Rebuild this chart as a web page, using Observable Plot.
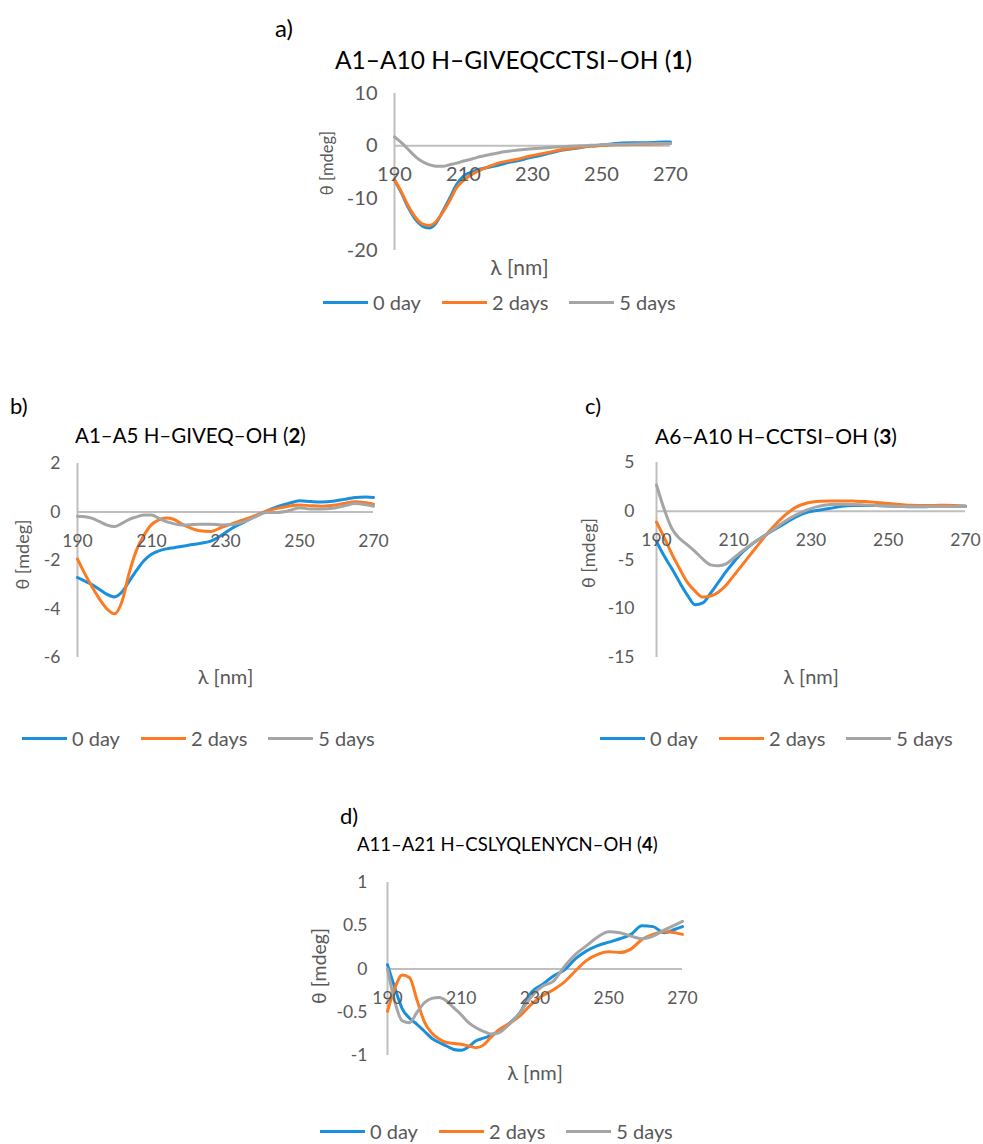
<!DOCTYPE html>
<html><head><meta charset="utf-8">
<script src="https://cdn.jsdelivr.net/npm/d3@7"></script>
<script src="https://cdn.jsdelivr.net/npm/@observablehq/plot@0.6"></script>
<style>
body{margin:0;background:#fff;}
#root{position:relative;width:983px;height:1144px;font-family:Lato,sans-serif;overflow:hidden;background:#fff;}
.abs{position:absolute;white-space:nowrap;line-height:1;}
.tag{color:#000;}
.title{color:#000;}
.legend{display:flex;align-items:center;font-size:20px;color:#595959;}
.item{display:flex;align-items:center;margin-right:21px;}
.sw{display:inline-block;width:45px;height:3px;margin-right:5px;}
svg{position:absolute;}
</style></head><body><div id="root"></div>
<script>
// ---------------- data ----------------
const wavelengths = [190,192,194,196,198,200,202,204,206,208,210,212,214,216,218,220,223,226,229,232,235,238,241,244,247,250,253,256,259,262,265,268,270];
const seriesNames = ["0 day","2 days","5 days"];
const seriesColors = ["#1a8fdc","#fb7a22","#a5a5a5"];
const xTicks = [190,210,230,250,270];

// a) A1–A10 H–GIVEQCCTSI–OH (1)
const aDay0 = [-6.5,-9,-11.8,-14,-15.3,-15.7,-14.8,-12.5,-10,-7.4,-5.8,-5.1,-4.6,-4.3,-4.0,-3.7,-3.2,-2.8,-2.3,-1.9,-1.4,-0.9,-0.6,-0.3,-0.05,0.15,0.35,0.55,0.6,0.6,0.65,0.75,0.75];
const aDay2 = [-6.5,-8.8,-11.5,-13.6,-14.9,-15.2,-14.5,-12.7,-10.5,-8.0,-6.6,-5.6,-4.9,-4.3,-3.8,-3.3,-2.9,-2.5,-2.0,-1.6,-1.2,-0.8,-0.5,-0.25,-0.05,0.05,0.15,0.2,0.25,0.3,0.35,0.4,0.45];
const aDay5 = [1.7,0.6,-0.7,-2.0,-3.0,-3.6,-3.9,-3.9,-3.6,-3.3,-2.9,-2.6,-2.2,-1.9,-1.6,-1.35,-1.05,-0.8,-0.6,-0.45,-0.3,-0.2,-0.1,0.0,0.1,0.2,0.25,0.3,0.35,0.4,0.4,0.45,0.45];
const aTicksY = [-20,-10,0,10];

// b) A1–A5 H–GIVEQ–OH (2)
const bDay0 = [-2.7,-2.85,-3.0,-3.2,-3.4,-3.5,-3.3,-2.85,-2.4,-2.0,-1.74,-1.6,-1.52,-1.47,-1.42,-1.37,-1.3,-1.2,-0.95,-0.65,-0.42,-0.18,0.03,0.22,0.35,0.46,0.43,0.41,0.44,0.52,0.6,0.62,0.6];
const bDay2 = [-1.94,-2.55,-3.1,-3.6,-4.0,-4.2,-3.7,-2.5,-1.55,-0.95,-0.52,-0.32,-0.25,-0.3,-0.48,-0.62,-0.77,-0.8,-0.63,-0.47,-0.32,-0.15,0.03,0.15,0.24,0.29,0.26,0.24,0.28,0.35,0.42,0.38,0.32];
const bDay5 = [-0.18,-0.2,-0.26,-0.4,-0.54,-0.6,-0.47,-0.3,-0.2,-0.12,-0.12,-0.26,-0.4,-0.48,-0.54,-0.53,-0.5,-0.5,-0.54,-0.52,-0.4,-0.2,-0.02,-0.02,0.05,0.18,0.12,0.12,0.15,0.25,0.35,0.3,0.24];
const bTicksY = [-6,-4,-2,0,2];

// c) A6–A10 H–CCTSI–OH (3)
const cDay0 = [-3.1,-4.6,-5.9,-7.3,-8.6,-9.6,-9.4,-8.4,-7.3,-6.2,-5.2,-4.3,-3.6,-3.0,-2.5,-2.0,-1.3,-0.6,-0.1,0.1,0.3,0.5,0.58,0.6,0.58,0.55,0.5,0.45,0.45,0.5,0.52,0.55,0.55];
const cDay2 = [-1.1,-2.7,-4.4,-5.9,-7.3,-8.2,-8.8,-8.7,-8.3,-7.6,-6.6,-5.6,-4.6,-3.6,-2.6,-1.7,-0.5,0.4,0.85,1.02,1.06,1.06,1.04,1.0,0.9,0.8,0.7,0.62,0.6,0.6,0.62,0.55,0.5];
const cDay5 = [2.7,0.2,-1.8,-2.8,-3.45,-4.15,-4.9,-5.5,-5.6,-5.4,-4.8,-4.15,-3.55,-3.0,-2.5,-1.95,-1.1,-0.4,0.15,0.5,0.7,0.72,0.68,0.65,0.6,0.55,0.5,0.5,0.5,0.5,0.5,0.5,0.5];
const cTicksY = [-15,-10,-5,0,5];

// d) A11–A21 H–CSLYQLENYCN–OH (4)
const dDay0 = [0.05,-0.22,-0.46,-0.57,-0.64,-0.72,-0.8,-0.85,-0.89,-0.93,-0.94,-0.9,-0.83,-0.8,-0.77,-0.73,-0.63,-0.5,-0.27,-0.18,-0.08,-0.01,0.12,0.21,0.27,0.31,0.35,0.4,0.5,0.49,0.42,0.46,0.49];
const dDay2 = [-0.49,-0.22,-0.07,-0.1,-0.36,-0.61,-0.74,-0.81,-0.85,-0.86,-0.87,-0.89,-0.91,-0.88,-0.79,-0.71,-0.63,-0.54,-0.41,-0.31,-0.24,-0.15,-0.02,0.1,0.17,0.2,0.19,0.23,0.34,0.4,0.43,0.42,0.4];
const dDay5 = [0.0,-0.38,-0.6,-0.62,-0.5,-0.39,-0.34,-0.33,-0.37,-0.45,-0.53,-0.62,-0.68,-0.72,-0.75,-0.74,-0.64,-0.5,-0.32,-0.2,-0.14,0.03,0.17,0.27,0.37,0.43,0.42,0.38,0.35,0.38,0.45,0.51,0.55];
const dTicksY = [-1,-0.5,0,0.5,1];

const xLabel = "λ [nm]";
const yLabel = "θ [mdeg]";

// ---------------- layout ----------------
const panels = [
  {tag:"a)", title:"A1–A10 H–GIVEQCCTSI–OH (", num:"1", series:[aDay0,aDay2,aDay5], yTicks:aTicksY, yDomain:[-20,10],
   svg:{left:300, top:80, width:400, height:205}, m:{l:94, r:30, t:13, b:35},
   tick:20, ylab:{dx:-67, dy:-9, size:16.5}, xlab:{dx:-13, dy:18, size:21}, pad:17,
   tagPos:[275,16,24], titlePos:[335,48,24.5], legend:[323,302]},
  {tag:"b)", title:"A1–A5 H–GIVEQ–OH (", num:"2", series:[bDay0,bDay2,bDay5], yTicks:bTicksY, yDomain:[-6,2],
   svg:{left:0, top:450, width:400, height:240}, m:{l:77, r:27, t:13, b:33},
   tick:17.5, ylab:{dx:-54, dy:-6, size:18}, xlab:{dx:0, dy:20, size:20}, pad:17,
   tagPos:[10,395,22], titlePos:[75,425,20.5], legend:[22,738]},
  {tag:"c)", title:"A6–A10 H–CCTSI–OH (", num:"3", series:[cDay0,cDay2,cDay5], yTicks:cTicksY, yDomain:[-15,5],
   svg:{left:570, top:450, width:413, height:240}, m:{l:86, r:18, t:12, b:33},
   tick:17.5, ylab:{dx:-67, dy:-7, size:18}, xlab:{dx:0, dy:20, size:20}, pad:22,
   tagPos:[585,395,22], titlePos:[655,425,21], legend:[600,738]},
  {tag:"d)", title:"A11–A21 H–CSLYQLENYCN–OH (", num:"4", series:[dDay0,dDay2,dDay5], yTicks:dTicksY, yDomain:[-1,1],
   svg:{left:290, top:865, width:410, height:220}, m:{l:97, r:18, t:17, b:30},
   tick:17.5, ylab:{dx:-68, dy:-3, size:19.5}, xlab:{dx:0, dy:18, size:20}, pad:20,
   tagPos:[340,805,22], titlePos:[357,835,18.5], legend:[320,1131]}
];

const root = document.getElementById("root");
const TXT = "#595959", AX = "#bfbfbf";

for (const p of panels) {
  const rows = [];
  p.series.forEach((vals, si) => {
    vals.forEach((v, i) => rows.push({wl: wavelengths[i], v, s: seriesNames[si]}));
  });
  const chart = Plot.plot({
    width: p.svg.width, height: p.svg.height,
    marginLeft: p.m.l, marginRight: p.m.r, marginTop: p.m.t, marginBottom: p.m.b,
    x: {domain: [190, 270], axis: null},
    y: {domain: p.yDomain, axis: null},
    color: {domain: seriesNames, range: seriesColors},
    style: {fontFamily: "Lato, sans-serif", background: "transparent", overflow: "hidden"},
    marks: [
      Plot.ruleY([0], {stroke: AX, strokeWidth: 2}),
      Plot.ruleX([190], {stroke: AX, strokeWidth: 2}),
      Plot.line(rows, {x: "wl", y: "v", z: "s", stroke: "s", strokeWidth: 3, curve: "monotone-x"}),
      Plot.text(p.yTicks, {frameAnchor: "left", y: d => d, text: d => String(d), textAnchor: "end", lineAnchor: "middle", dx: -p.pad, fill: TXT, fontSize: p.tick}),
      Plot.text(xTicks, {x: d => d, y: 0, text: d => String(d), textAnchor: "middle", lineAnchor: "middle", dy: 29, fill: TXT, fontSize: p.tick}),
      Plot.text([yLabel], {frameAnchor: "left", text: d => d, rotate: -90, textAnchor: "middle", lineAnchor: "middle", dx: p.ylab.dx, dy: p.ylab.dy, fill: TXT, fontSize: p.ylab.size}),
      Plot.text([xLabel], {frameAnchor: "bottom", text: d => d, textAnchor: "middle", lineAnchor: "middle", dx: p.xlab.dx, dy: p.xlab.dy, fill: TXT, fontSize: p.xlab.size})
    ]
  });
  chart.style.left = p.svg.left + "px";
  chart.style.top = p.svg.top + "px";
  root.appendChild(chart);

  const tag = document.createElement("div");
  tag.className = "abs tag";
  tag.style.left = p.tagPos[0] + "px"; tag.style.top = p.tagPos[1] + "px"; tag.style.fontSize = p.tagPos[2] + "px";
  tag.textContent = p.tag;
  root.appendChild(tag);

  const title = document.createElement("div");
  title.className = "abs title";
  title.style.left = p.titlePos[0] + "px"; title.style.top = p.titlePos[1] + "px"; title.style.fontSize = p.titlePos[2] + "px";
  title.append(p.title);
  const b = document.createElement("b"); b.textContent = p.num; title.append(b); title.append(")");
  root.appendChild(title);

  const leg = document.createElement("div");
  leg.className = "abs legend";
  leg.style.left = p.legend[0] + "px"; leg.style.top = (p.legend[1] - 10) + "px"; leg.style.height = "20px";
  seriesNames.forEach((n, i) => {
    const it = document.createElement("span"); it.className = "item";
    const sw = document.createElement("span"); sw.className = "sw"; sw.style.background = seriesColors[i];
    it.appendChild(sw); it.append(n); leg.appendChild(it);
  });
  root.appendChild(leg);
}
</script></body></html>
